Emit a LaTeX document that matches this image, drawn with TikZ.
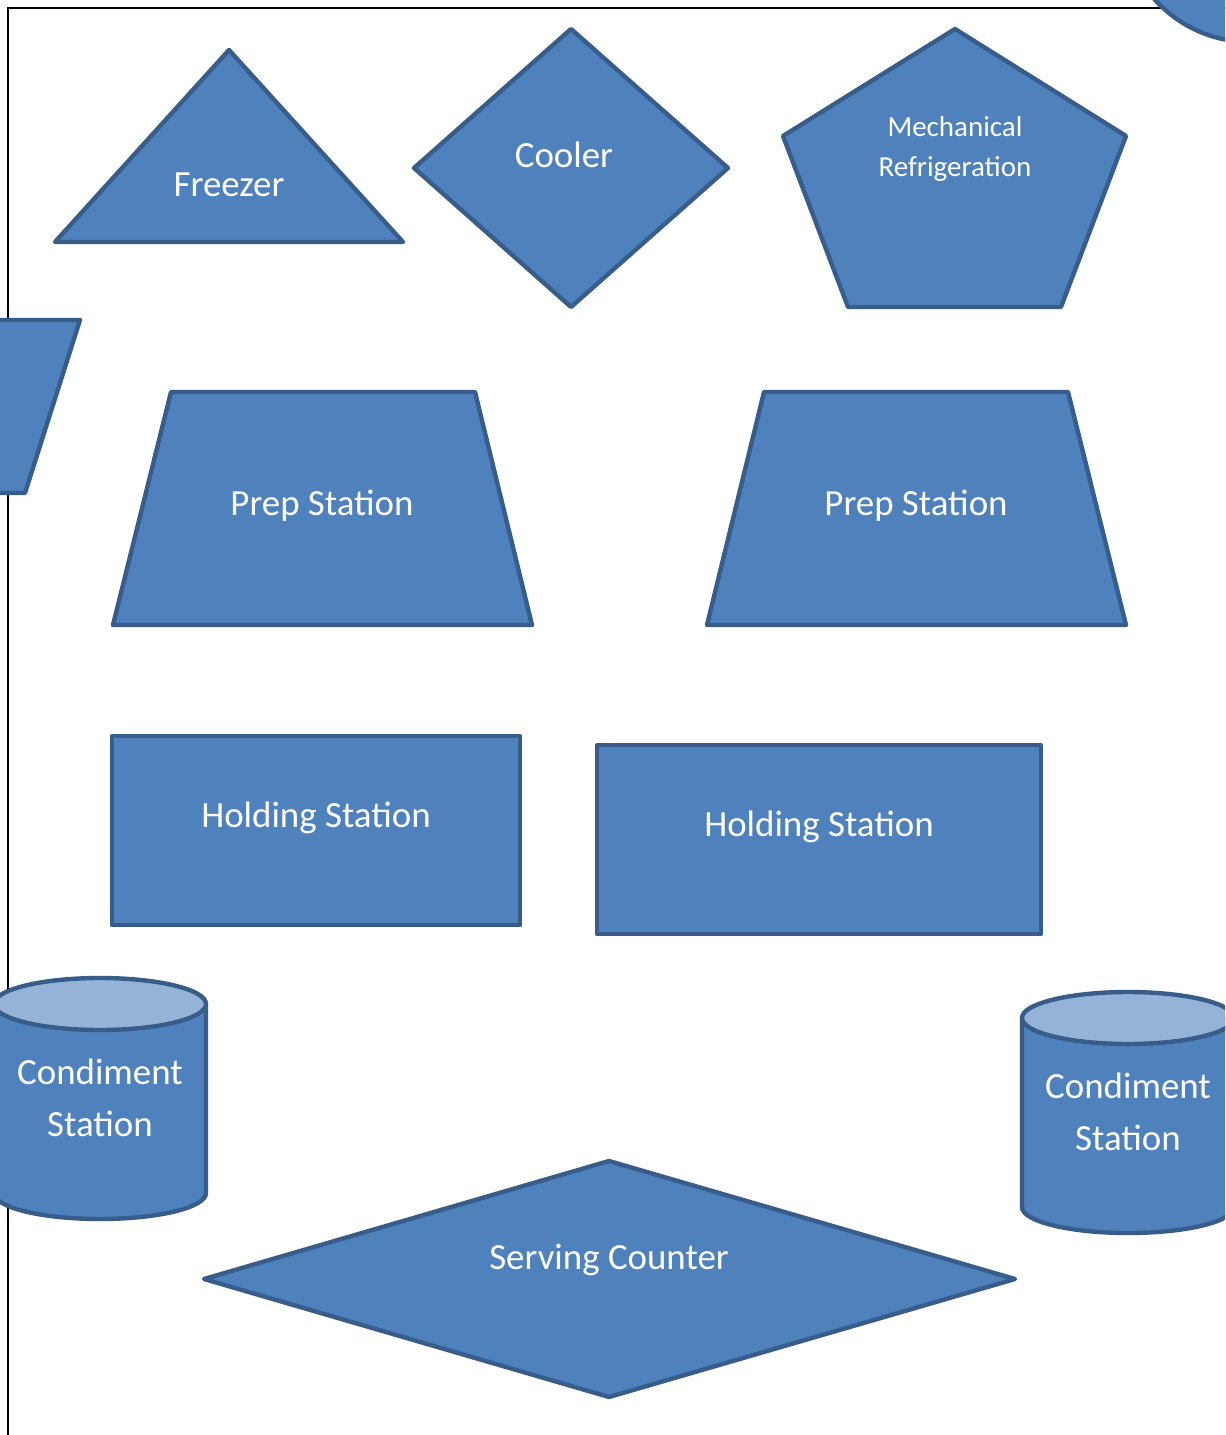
\documentclass[tikz,border=0pt]{standalone}
\usepackage{fontspec}
\setmainfont{Carlito}
\definecolor{shapefill}{HTML}{4F81BD}
\definecolor{shapeline}{HTML}{385D8A}
\definecolor{cyltop}{HTML}{95B3D7}
\begin{document}
\begin{tikzpicture}[x=0.02cm, y=0.02cm,
    block/.style={fill=shapefill, draw=shapeline, line width=2.5pt, line join=round},
    lid/.style={fill=cyltop, draw=shapeline, line width=2.5pt},
    lbl/.style={text=white, font=\fontsize{21}{29.5}\selectfont, align=center},
    small/.style={text=white, font=\fontsize{16.5}{23}\selectfont, align=center}]
        \clip (0,0) rectangle (1225,-1435);
        \fill[white] (0,0) rectangle (1225,-1435);
        \draw[line width=1.2pt] (8,-1440) -- (8,-8) -- (1230,-8);

        % top row
        \draw[block] (55,-242) -- (403,-242) -- (229,-50) -- cycle;
        \node[lbl] (freezer) at (229,-185) {Freezer};
        \draw[block] (571,-29) -- (728,-168) -- (571,-307) -- (414,-168) -- cycle;
        \node[lbl] (cooler) at (564,-155) {Cooler};
        \draw[block] (955,-29) -- (1126,-136) -- (1061,-307) -- (848,-307) -- (783,-136) -- cycle;
        \node[small] (mech) at (955,-149) {Mechanical\\Refrigeration};
        \draw[block] (1250,86) circle (128);

        % prep stations
        \draw[block] (-60,-320) -- (80,-320) -- (25,-493) -- (-120,-493) -- cycle;
        \draw[block] (171,-392) -- (475,-392) -- (532,-625) -- (113,-625) -- cycle;
        \node[lbl] (prep1) at (322,-506) {Prep Station};
        \draw[block] (764,-392) -- (1068,-392) -- (1126,-625) -- (707,-625) -- cycle;
        \node[lbl] (prep2) at (916,-506) {Prep Station};

        % holding stations
        \draw[block] (112,-736) rectangle (520,-925);
        \node[lbl] (hold1) at (316,-818) {Holding Station};
        \draw[block] (597,-745) rectangle (1041,-934);
        \node[lbl] (hold2) at (819,-827) {Holding Station};

        % condiment stations
        \draw[block] (-6,-1004) -- (-6,-1193) arc[start angle=180, end angle=360, x radius=106, y radius=26] -- (206,-1004) -- cycle;
        \draw[lid] (100,-1004) ellipse[x radius=106, y radius=26];
        \node[lbl] (cond1) at (100,-1098) {Condiment\\Station};
        \draw[block] (1022,-1018) -- (1022,-1207) arc[start angle=180, end angle=360, x radius=106, y radius=26] -- (1234,-1018) -- cycle;
        \draw[lid] (1128,-1018) ellipse[x radius=106, y radius=26];
        \node[lbl] (cond2) at (1128,-1112) {Condiment\\Station};

        % serving counter
        \draw[block] (609,-1161) -- (1015,-1279) -- (609,-1397) -- (204,-1279) -- cycle;
        \node[lbl] (counter) at (609,-1260) {Serving Counter};
      \end{tikzpicture}
\end{document}
